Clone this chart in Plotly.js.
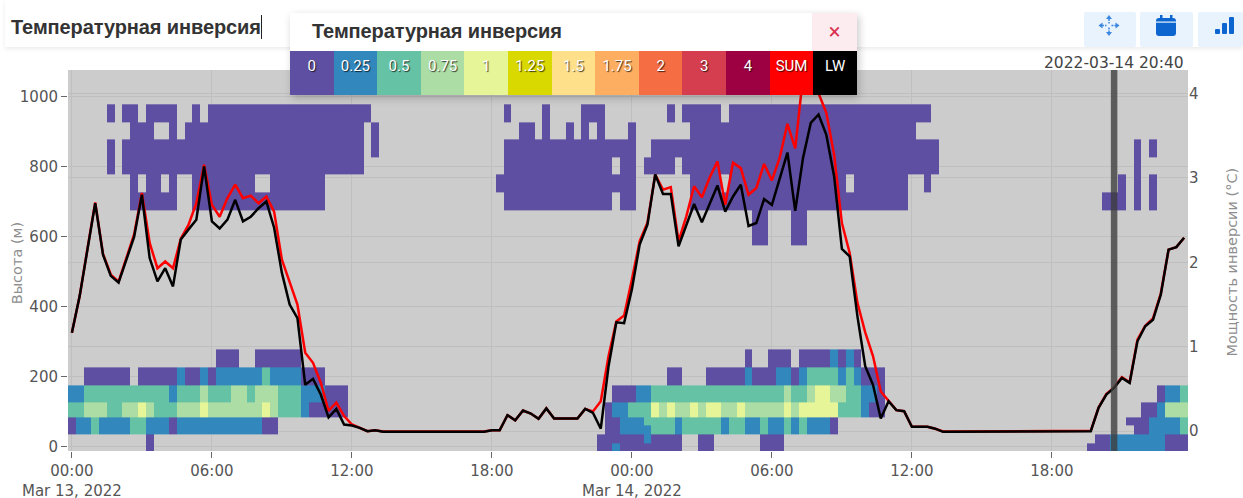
<!DOCTYPE html>
<html>
<head>
<meta charset="utf-8">
<script src="https://cdn.plot.ly/plotly-3.0.1.min.js"></script>
<style>
html,body{margin:0;padding:0;background:#fff;width:1243px;height:498px;overflow:hidden;font-family:Roboto,Arial,sans-serif}
#chart{position:absolute;left:0;top:0;width:1243px;height:498px}
#head{position:absolute;left:5px;right:0;top:0;height:47px;background:#fff;box-shadow:0 2px 4px rgba(0,0,0,.08)}
#ttl{position:absolute;left:6px;top:15px;font-family:"Liberation Sans",Arial,sans-serif;font-size:20px;font-weight:700;letter-spacing:-.1px;color:#333;line-height:24px;white-space:nowrap;border-right:1px solid #222}
.btn{position:absolute;top:12px;height:35px;background:#e9f3fd;border-radius:2px}
.btn svg{position:absolute;left:0;top:0}
#modal{position:absolute;left:290px;top:13px;width:567px;height:82px;background:#fff;box-shadow:2px 3px 8px rgba(0,0,0,.22)}
#mt{position:absolute;left:22px;top:6px;font-family:"Liberation Sans",Arial,sans-serif;font-size:20px;font-weight:700;letter-spacing:-.1px;color:#333;line-height:24px;white-space:nowrap}
#mx{position:absolute;right:0;top:0;width:45px;height:38px;background:#fdecef;color:#d9304f;font-size:22px;line-height:38px;text-align:center}
#sw{position:absolute;left:0;top:38px;width:567px;height:44px;display:flex}
#sw div{flex:1 1 0;color:#fff;font-size:15px;text-align:center;line-height:30px;text-shadow:1px 1px 1px rgba(0,0,0,.75)}
</style>
</head>
<body>
<div id="chart"></div>
<div id="head"><div id="ttl">Температурная инверсия</div></div>
<div class="btn" style="left:1084px;width:52px"><svg width="52" height="35" fill="#3b86e0"><path d="M25 3l3 4h-6zM25 24l-3-4h6zM14.500 13.500l4-3v6zM35.500 13.500l-4-3v6z"/><path d="M25 7v4.500M25 15.500v4.500M18 13.500h4.500M27.500 13.500h4.500" stroke="#3b86e0" stroke-width="1.500" stroke-dasharray="2 1"/></svg></div>
<div class="btn" style="left:1140px;width:53px"><svg width="53" height="35" fill="#0d66d0"><rect x="16" y="6" width="20" height="18" rx="3"/><rect x="20" y="3" width="2.500" height="5"/><rect x="30" y="3" width="2.500" height="5"/><rect x="16" y="9.500" width="20" height="1.200" fill="#e9f3fd"/></svg></div>
<div class="btn" style="left:1198px;width:45px"><svg width="45" height="35" fill="#0d66d0"><rect x="17" y="17" width="5" height="5" rx="1"/><rect x="24" y="11" width="5" height="11" rx="1"/><rect x="31" y="5" width="5" height="17" rx="1"/></svg></div>
<div id="modal">
  <div id="mt">Температурная инверсия</div>
  <div id="mx">×</div>
  <div id="sw"></div>
</div>
<script>
// Legend
const legendLabels = ['0','0.25','0.5','0.75','1','1.25','1.5','1.75','2','3','4','SUM','LW'];
const legendColors = ['#5e4fa2','#3288bd','#66c2a5','#abdda4','#e6f598','#d9d900','#fee08b','#fdae61','#f46d43','#d53e4f','#9e0142','#ff0000','#000000'];

// Axis text
const yTitle = 'Высота (м)';
const y2Title = 'Мощность инверсии (°C)';
const cursorTime = '2022-03-14 20:40';

// Heat-map height bands (edges, metres)
const heightEdges = [-13,10,34,59,84,126,176,226,276,574,624,674,726,776,826,876,926,977];

// Heat-map rows: [first sample, last sample, inversion level]; samples are 20 minutes apart from 2022-03-13 00:00
const row0L = [[10,10,0],[68,69,0],[70,70,.25],[71,78,0],[81,82,0],[89,91,0],[131,133,0],[134,140,.25],[141,143,0]];
const row0U = [[10,10,0],[68,73,0],[74,74,.25],[75,78,0],[81,82,0],[89,91,0],[132,133,0],[134,140,.25],[141,143,0]];
const row50L = [[0,0,0],[1,2,.25],[3,3,.5],[4,7,.25],[8,9,.5],[10,12,.25],[13,13,0],[14,24,.25],[25,26,0],
  [69,70,0],[71,74,.25],[75,77,.5],[78,78,.25],[79,83,.5],[84,84,.25],[85,86,.5],[87,88,.25],[89,89,.5],[90,91,.25],[92,92,.5],[93,93,.25],[94,94,.5],[95,97,.25],[98,98,0],
  [137,138,0],[139,142,.25],[143,143,.5]];
const row50U = [[0,0,0],[1,2,.25],[3,3,.5],[4,7,.25],[8,9,.5],[10,12,.25],[13,13,0],[14,24,.25],[25,26,0],
  [69,70,0],[71,73,.25],[74,77,.5],[78,78,.25],[79,83,.5],[84,84,.25],[85,86,.5],[87,88,.25],[89,89,.5],[90,91,.25],[92,92,.5],[93,93,.25],[94,94,.5],[95,97,.25],[98,98,0],
  [136,138,0],[139,142,.25],[143,143,.5]];
const row100 = [[0,1,.5],[2,4,.75],[5,6,.5],[7,8,.75],[9,9,1],[10,10,.75],[11,13,.5],[14,16,.75],[17,17,1],[18,24,.75],[25,25,1],[26,26,.75],[27,29,.5],[30,30,.25],[31,35,0],
  [69,69,0],[70,71,.25],[72,74,.5],[75,75,1],[76,76,.75],[77,77,1],[78,79,.75],[80,80,1],[81,81,.75],[82,83,1],[84,85,.75],[86,86,1],[87,91,.75],[92,92,1],[93,93,.75],[94,98,1],[99,101,.5],[102,102,.25],[103,104,0],
  [138,139,0],[140,140,.25],[141,143,.75]];
const row150 = [[0,1,.25],[2,12,.5],[13,13,.25],[14,16,.5],[17,17,.75],[18,20,.5],[21,22,.75],[23,23,.5],[24,26,.75],[27,29,.5],[30,32,.25],[33,35,0],
  [70,72,0],[73,74,.25],[75,91,.5],[92,92,.75],[93,94,.5],[95,95,.75],[96,97,1],[98,99,.75],[100,101,.5],[102,103,.25],[104,104,0],
  [140,140,0],[141,142,.25],[143,143,.5]];
const row200 = [[2,7,0],[9,13,0],[14,14,.25],[15,16,0],[17,17,.25],[18,18,0],[19,24,.25],[25,25,.5],[26,29,.25],[30,32,0],
  [77,78,0],[82,86,0],[87,87,.25],[88,90,0],[91,92,.25],[93,93,0],[94,94,.25],[95,98,.5],[99,99,.25],[100,100,.5],[101,101,.25],[102,104,0]];
const row250 = [[19,21,0],[24,29,0],[87,87,0],[90,92,0],[94,97,0],[98,98,.25],[99,99,0],[100,100,.25],[101,101,0]];
const rowGap = [];
const row600 = [[88,89,0],[93,94,0]];
const row650 = [[88,89,0],[93,94,0]];
const row700 = [[8,13,0],[16,32,0],[56,69,0],[71,72,0],[80,107,0],[133,135,0],[137,137,0],[139,139,0]];
const row750 = [[8,8,0],[10,11,0],[13,13,0],[16,23,0],[26,32,0],[55,72,0],[80,83,0],[85,99,0],[101,107,0],[110,110,0],[135,135,0],[137,137,0],[139,139,0]];
const row800 = [[5,5,0],[7,37,0],[56,69,0],[71,72,0],[74,77,0],[79,111,0],[137,137,0]];
const row850 = [[5,5,0],[7,37,0],[39,39,0],[56,72,0],[75,111,0],[137,137,0],[139,139,0]];
const row900 = [[8,10,0],[13,13,0],[15,37,0],[39,39,0],[58,59,0],[61,61,0],[64,64,0],[66,66,0],[68,68,0],[72,72,0],[80,108,0]];
const row950 = [[5,5,0],[7,8,0],[10,13,0],[16,16,0],[18,38,0],[56,56,0],[61,61,0],[66,68,0],[77,77,0],[79,83,0],[85,110,0]];
const allRows = [row0L,row0U,row50L,row50U,row100,row150,row200,row250,rowGap,row600,row650,row700,row750,row800,row850,row900,row950];

// Line series (°C), one value per 20-minute sample
const sumValues = [
1.165,1.60,2.16,2.71,2.10,1.855,1.77,2.06,2.33,2.82,
2.23,1.93,2.01,1.93,2.28,2.445,2.70,3.155,2.68,2.54,
2.76,2.92,2.76,2.79,2.70,2.78,2.60,2.03,1.755,1.50,
.93,.81,.575,.24,.34,.18,.08,.04,.0,.012,
-.003,-.003,-.003,-.003,-.003,-.003,-.003,-.003,-.003,-.003,-.003,-.003,-.003,-.003,
.012,.012,.19,.13,.245,.21,.147,.27,.15,.15,.155,.15,.265,.235,
.355,.89,1.30,1.37,
1.795,2.25,2.47,3.04,2.86,2.89,2.25,2.545,2.90,2.77,
3.005,3.195,2.68,3.18,3.115,2.80,2.88,3.165,2.97,3.235,
3.64,3.35,4.2,4.15,4.0,3.77,3.275,2.465,2.11,1.52,
1.17,.89,.47,.355,.25,.237,.052,.052,.052,.03,
-.003,-.003,-.003,-.003,-.003,-.003,-.003,-.003,-.003,-.003,-.003,-.003,-.003,-.003,-.003,-.003,-.003,-.003,-.003,
.005,
.28,.44,.52,.64,.58,1.085,1.25,1.335,1.63,2.15,2.18,2.29];
const lwValues = [
1.165,1.60,2.15,2.70,2.09,1.84,1.76,2.03,2.30,2.80,
2.05,1.775,1.93,1.715,2.27,2.39,2.505,3.135,2.485,2.40,
2.505,2.74,2.485,2.54,2.64,2.72,2.41,1.875,1.50,1.34,
.55,.62,.435,.165,.265,.08,.067,.04,0,.012,
-.007,-.007,-.007,-.007,-.007,-.007,-.007,-.007,-.007,-.007,-.007,-.007,-.007,-.007,
.012,.012,.19,.13,.245,.21,.147,.27,.15,.15,.155,.15,.265,.217,
.03,.77,1.29,1.28,
1.68,2.21,2.445,3.04,2.81,2.81,2.19,2.445,2.69,2.475,
2.70,2.91,2.60,2.78,2.92,2.43,2.465,2.75,2.68,2.98,
3.30,2.61,3.235,3.65,3.75,3.51,3.02,2.16,2.07,1.36,
.77,.55,.15,.355,.25,.237,.052,.052,.052,.03,
-.007,-.007,-.007,-.007,-.007,-.007,-.007,-.007,-.007,-.007,-.007,-.007,-.007,-.007,-.007,-.007,-.007,-.007,-.007,
0,
.277,.434,.513,.632,.573,1.065,1.243,1.32,1.617,2.15,2.18,2.29];

// Time stamps for the samples
function stamp(k){
  const day = 13 + Math.floor(k/72);
  const mins = (k % 72) * 20;
  const h = Math.floor(mins/60), m = mins % 60;
  return '2022-03-' + day + ' ' + String(h).padStart(2,'0') + ':' + String(m).padStart(2,'0');
}
const sampleCount = lwValues.length;
const times = Array.from({length:sampleCount},(_,k)=>stamp(k));

// Expand rows into the grid
const zGrid = allRows.map(runs=>{
  const line = new Array(sampleCount).fill(null);
  runs.forEach(([a,b,v])=>{for(let k=a;k<=b;k++)line[k]=v;});
  return line;
});

// Legend DOM
const sw = document.getElementById('sw');
legendLabels.forEach((t,i)=>{
  const d=document.createElement('div');
  d.textContent=t;d.style.background=legendColors[i];sw.appendChild(d);
});

const fontFam = '"DejaVu Sans",Verdana,sans-serif';
const axisFont = {family:fontFam,size:15,color:'#555'};
const titleFont = {family:fontFam,size:14.5,color:'#8f8f8f'};
const traces = [
 {type:'heatmap',x:times,y:heightEdges,z:zGrid,zmin:0,zmax:1,showscale:false,hoverongaps:false,
  colorscale:[[0,legendColors[0]],[.25,legendColors[1]],[.5,legendColors[2]],[.75,legendColors[3]],[1,legendColors[4]]]},
 {type:'scatter',mode:'lines',x:times,y:sumValues,yaxis:'y2',name:'SUM',line:{color:legendColors[11],width:2.5},showlegend:false},
 {type:'scatter',mode:'lines',x:times,y:lwValues,yaxis:'y2',name:'LW',line:{color:legendColors[12],width:2.5},showlegend:false}
];
const layout = {
 width:1243,height:498,
 margin:{l:67.8,r:55.3,t:70.3,b:46.5,pad:0},
 paper_bgcolor:'rgba(0,0,0,0)',plot_bgcolor:'#cccccc',
 font:axisFont,showlegend:false,
 xaxis:{type:'date',range:['2022-03-12 23:50','2022-03-14 23:50'],dtick:21600000,tick0:'2022-03-13 00:00',
   showgrid:true,gridcolor:'#bfbfbf',gridwidth:1,zeroline:false,showline:false,ticks:'outside',ticklen:6,tickcolor:'#666',tickfont:axisFont},
 yaxis:{range:[-13,1075],tickvals:[0,200,400,600,800,1000],showgrid:true,gridcolor:'#bfbfbf',gridwidth:1,zeroline:false,showline:false,
   ticks:'outside',ticklen:6,tickcolor:'#666',tickfont:axisFont},
 yaxis2:{overlaying:'y',side:'right',range:[-0.234,4.277],tickvals:[0,1,2,3,4],showgrid:true,gridcolor:'#bfbfbf',gridwidth:1,zeroline:false,showline:false,
   ticks:'',tickfont:axisFont},
 shapes:[{type:'line',xref:'x',yref:'paper',x0:cursorTime,x1:cursorTime,y0:0,y1:1,layer:'above',line:{color:'rgba(60,60,60,.78)',width:6.500}}],
 annotations:[
  {x:cursorTime,xref:'x',yref:'paper',y:1,yanchor:'bottom',yshift:-3.5,xanchor:'center',showarrow:false,text:cursorTime,font:{family:fontFam,size:15.5,color:'#444'}},
  {xref:'paper',x:0,xshift:-50.8,yref:'paper',y:.5,yshift:-2.6,xanchor:'center',yanchor:'middle',textangle:-90,showarrow:false,text:yTitle,font:titleFont},
  {xref:'paper',x:1,xshift:44.3,yref:'paper',y:.5,yshift:-1.6,xanchor:'center',yanchor:'middle',textangle:-90,showarrow:false,text:y2Title,font:titleFont}
 ]
};
Plotly.newPlot('chart',traces,layout,{displayModeBar:false,responsive:false});
</script>
</body>
</html>
